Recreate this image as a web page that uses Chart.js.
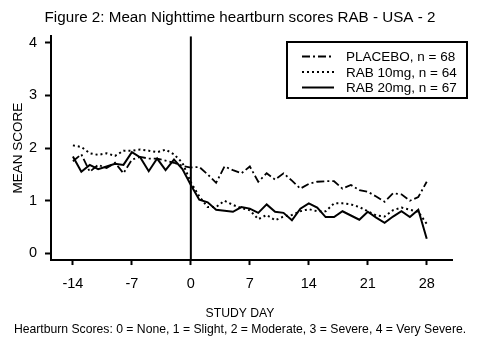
<!DOCTYPE html>
<html>
<head>
<meta charset="utf-8">
<script src="https://cdn.jsdelivr.net/npm/chart.js@4.4.1/dist/chart.umd.min.js"></script>
<style>
  html, body { margin: 0; padding: 0; background: #fff; }
  #wrap { width: 480px; height: 339px; }
</style>
</head>
<body>
<div id="wrap"><canvas id="line-chart"></canvas></div>
<script>
// Study days -14 .. 28
var days = [];
for (var d = -14; d <= 28; d++) days.push(d);

var placebo = [1.75, 1.88, 1.55, 1.68, 1.62, 1.72, 1.52, 1.78, 1.83, 1.80, 1.80, 1.76, 1.72, 1.66,
    1.63,
    1.64, 1.50, 1.34, 1.65, 1.58, 1.52, 1.65, 1.36, 1.52, 1.40, 1.52, 1.38, 1.23, 1.32,
    1.36, 1.37, 1.37, 1.23, 1.30, 1.20, 1.17, 1.08, 0.98, 1.14, 1.12, 1.00, 1.07, 1.36];
var rab10 = [2.05, 2.02, 1.90, 1.87, 1.90, 1.85, 1.95, 1.95, 1.97, 1.95, 1.92, 1.97, 1.88, 1.72,
    1.35,
    1.08, 0.88, 0.88, 1.00, 0.92, 0.86, 0.82, 0.65, 0.73, 0.63, 0.70, 0.73, 0.80, 0.84,
    0.80, 0.80, 0.95, 0.95, 0.93, 0.88, 0.80, 0.72, 0.70, 0.82, 0.87, 0.83, 0.79, 0.56];
var rab20 = [1.84, 1.55, 1.68, 1.60, 1.65, 1.70, 1.68, 1.92, 1.82, 1.56, 1.80, 1.58, 1.78, 1.60,
    1.30,
    1.02, 0.97, 0.83, 0.81, 0.79, 0.88, 0.85, 0.77, 0.93, 0.79, 0.77, 0.63, 0.85, 0.95,
    0.87, 0.69, 0.69, 0.80, 0.72, 0.64, 0.79, 0.68, 0.58, 0.70, 0.80, 0.69, 0.83, 0.28];

var seriesLabels = ["PLACEBO, n = 68", "RAB 10mg, n = 64", "RAB 20mg, n = 67"];
var xTicks = [-14, -7, 0, 7, 14, 21, 28];
var yTicks = [0, 1, 2, 3, 4];
var xMin = -16.6, xMax = 31;
var yMin = -0.125, yMax = 4.12;

var FONT = "'Liberation Sans', Arial, Helvetica, sans-serif";

function pts(vals) {
    return vals.map(function (v, i) { return { x: days[i], y: v }; });
}

// boxed legend drawn top right inside the plot
var boxLegend = {
    id: 'boxLegend',
    afterDraw: function (chart) {
        var ctx = chart.ctx;
        ctx.save();
        ctx.strokeStyle = '#000';
        ctx.lineWidth = 2;
        ctx.strokeRect(287, 42, 180, 56);
        ctx.font = '13.5px ' + FONT;
        ctx.fillStyle = '#000';
        ctx.textBaseline = 'middle';
        for (var i = 0; i < 3; i++) {
            var ds = chart.data.datasets[i];
            var y = 56.5 + i * 15.5;
            ctx.setLineDash(ds.borderDash || []);
            ctx.lineWidth = ds.borderWidth;
            ctx.beginPath();
            ctx.moveTo(302, y);
            ctx.lineTo(334, y);
            ctx.stroke();
            ctx.setLineDash([]);
            ctx.fillText(ds.label, 346, y + 1);
        }
        ctx.restore();
    }
};

new Chart(document.getElementById("line-chart"), {
    type: 'line',
    data: {
        datasets: [{
            label: seriesLabels[0],
            data: pts(placebo),
            borderColor: "#000",
            borderWidth: 1.8,
            borderDash: [8, 3, 2, 3]
        }, {
            label: seriesLabels[1],
            data: pts(rab10),
            borderColor: "#000",
            borderWidth: 2,
            borderDash: [2, 3]
        }, {
            label: seriesLabels[2],
            data: pts(rab20),
            borderColor: "#000",
            borderWidth: 2
        }, {
            label: 'day0',
            data: [{ x: 0, y: yMin }, { x: 0, y: yMax }],
            borderColor: "#000",
            borderWidth: 2
        }]
    },
    options: {
        responsive: true,
        maintainAspectRatio: false,
        animation: false,
        devicePixelRatio: 1,
        elements: { point: { radius: 0 }, line: { tension: 0, fill: false } },
        layout: { padding: 0 },
        plugins: {
            legend: { display: false },
            tooltip: { enabled: false },
            title: {
                display: true,
                text: 'Figure 2: Mean Nighttime heartburn scores RAB - USA - 2',
                color: '#000',
                font: { family: FONT, size: 15.2, weight: 'normal', lineHeight: 1.2 },
                padding: { top: 9, bottom: 9 }
            },
            subtitle: {
                display: true,
                position: 'bottom',
                text: ['STUDY DAY',
                       'Heartburn Scores: 0 = None, 1 = Slight, 2 = Moderate, 3 = Severe, 4 = Very Severe.'],
                color: '#000',
                font: { family: FONT, size: 12.2, lineHeight: 1.31 },
                padding: { top: 14.3, bottom: 1 }
            }
        },
        scales: {
            x: {
                type: 'linear',
                min: xMin,
                max: xMax,
                afterBuildTicks: function (s) { s.ticks = xTicks.map(function (v) { return { value: v }; }); },
                afterFit: function (s) { s.height = 31.7; },
                grid: { drawOnChartArea: false, drawTicks: true, tickLength: 5, tickWidth: 2, tickColor: '#000' },
                border: { color: '#000', width: 2 },
                ticks: { color: '#000', font: { family: FONT, size: 14.5, lineHeight: 1.2 }, padding: 10, maxRotation: 0 }
            },
            y: {
                type: 'linear',
                min: yMin,
                max: yMax,
                afterBuildTicks: function (s) { s.ticks = yTicks.map(function (v) { return { value: v }; }); },
                afterFit: function (s) { s.width = 51; },
                grid: { drawOnChartArea: false, drawTicks: true, tickLength: 6, tickWidth: 2, tickColor: '#000' },
                border: { color: '#000', width: 2 },
                ticks: { color: '#000', font: { family: FONT, size: 14.5 }, padding: 8 },
                title: {
                    display: true,
                    text: 'MEAN SCORE',
                    color: '#000',
                    font: { family: FONT, size: 13.5, lineHeight: 1.2 },
                    padding: { top: 10, bottom: 2 }
                }
            },
            // empty right-hand axis that only reserves the right margin
            yRight: {
                position: 'right',
                display: true,
                afterFit: function (s) { s.width = 28; },
                grid: { display: false, drawTicks: false },
                border: { display: false },
                ticks: { display: false }
            }
        }
    },
    plugins: [boxLegend]
});
</script>
</body>
</html>
